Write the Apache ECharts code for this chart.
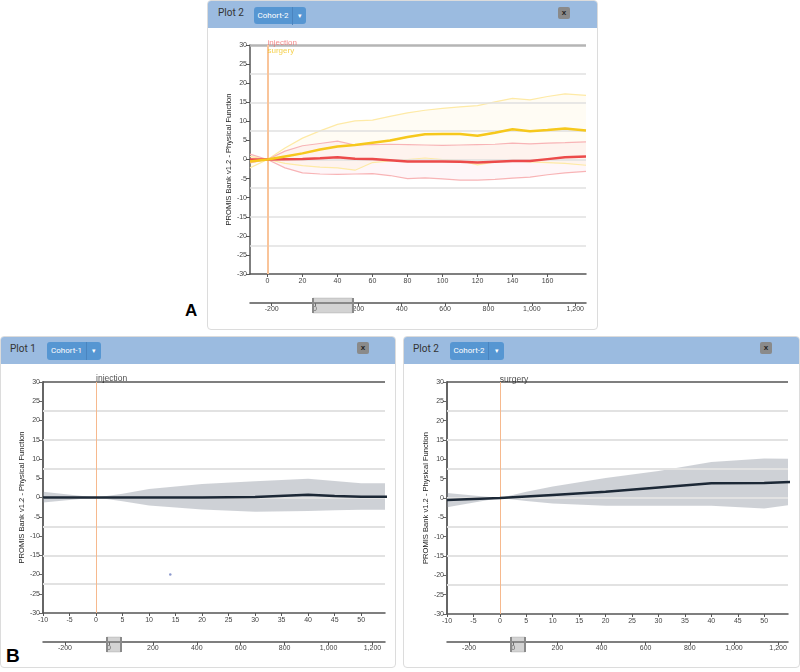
<!DOCTYPE html>
<html>
<head>
<meta charset="utf-8">
<script src="https://cdn.jsdelivr.net/npm/echarts@6/dist/echarts.min.js"></script>
<style>
  html, body { margin:0; padding:0; background:#fff; width:800px; height:672px; overflow:hidden; }
  .panel { position:absolute; border:1px solid #dcdcdc; border-radius:4px; background:#fff; box-sizing:border-box; z-index:1; }
  .hdr { position:absolute; left:0; top:0; right:0; height:27px; background:#9bbbe0; border-radius:3px 3px 0 0; }
  .ttl { position:absolute; font:10px Roboto, Arial, sans-serif; color:#333; line-height:12px; z-index:1; }
  .btn { position:absolute; height:18px; background:#5696d2; border-radius:3px; z-index:1; font:8px Roboto, Arial, sans-serif; color:#fff; }
  .btn .lbl { position:absolute; left:0; top:0; height:18px; line-height:18px; text-align:center; }
  .btn .dv { position:absolute; top:0; width:1px; height:18px; background:#4a84bf; }
  .btn .car { position:absolute; top:0; height:18px; line-height:18px; text-align:center; font-size:7px; }
  .xb { position:absolute; width:12px; height:12px; background:#8a8a8a; border-radius:2px; z-index:1; font:bold 8px Arial, sans-serif; color:#222; text-align:center; line-height:11px; }
  .big { position:absolute; font:bold 18px Arial, "Liberation Sans", sans-serif; color:#000; z-index:1; }
  #c { position:absolute; left:0; top:0; width:800px; height:672px; z-index:2; }
</style>
</head>
<body>
<div class="panel" style="left:207px;top:0;width:391px;height:330px;"><div class="hdr"></div></div>
<div class="ttl" style="left:218px;top:7px;">Plot 2</div>
<div class="btn" style="left:254px;top:7px;width:52px;height:17px;"><div class="lbl" style="width:38px;">Cohort-2</div><div class="dv" style="left:38px;"></div><div class="car" style="left:39px;width:13px;">&#9662;</div></div>
<div class="xb" style="left:558px;top:7px;">x</div>
<div class="big" style="left:185px;top:301px;font-size:17px;">A</div>

<div class="panel" style="left:0;top:336px;width:396px;height:332px;"><div class="hdr"></div></div>
<div class="ttl" style="left:10px;top:343px;">Plot 1</div>
<div class="btn" style="left:47px;top:342px;width:54px;"><div class="lbl" style="width:39px;">Cohort-1</div><div class="dv" style="left:39px;"></div><div class="car" style="left:40px;width:14px;">&#9662;</div></div>
<div class="xb" style="left:357px;top:342px;">x</div>

<div class="panel" style="left:403px;top:336px;width:397px;height:332px;"><div class="hdr"></div></div>
<div class="ttl" style="left:413px;top:343px;">Plot 2</div>
<div class="btn" style="left:450px;top:342px;width:54px;"><div class="lbl" style="width:38px;">Cohort-2</div><div class="dv" style="left:38px;"></div><div class="car" style="left:39px;width:15px;">&#9662;</div></div>
<div class="xb" style="left:760px;top:342px;">x</div>
<div class="big" style="left:6px;top:645px;font-size:19px;">B</div>

<div id="c"></div>
<script>
// ---------------- data ----------------
const yTitle = 'PROMIS Bank v1.2 - Physical Function';

// Panel A (days, mean change and band limits)
const xA = [-10,0,10,20,30,40,50,60,70,80,90,100,110,120,130,140,150,160,170,182];
const injMean  = [0,0,0.05,0.1,0.3,0.6,0.2,0.1,-0.2,-0.5,-0.5,-0.5,-0.6,-0.8,-0.6,-0.4,-0.4,0.1,0.6,0.8];
const injUpper = [1.4,0,2.2,3.6,4.2,4.8,3.8,3.9,4.0,3.9,3.8,3.7,3.8,3.9,4.0,4.3,4.1,4.3,4.4,4.6];
const injLower = [-0.9,0,-2.2,-3.5,-3.8,-3.9,-3.8,-3.7,-4.2,-5.0,-4.8,-5.1,-5.4,-5.4,-5.2,-4.9,-4.6,-4.0,-3.5,-3.1];
const surMean  = [-0.5,0,0.8,1.6,2.6,3.4,3.8,4.4,5.0,5.9,6.6,6.7,6.7,6.2,7.0,7.9,7.4,7.7,8.1,7.6];
const surUpper = [0.8,0,3.0,5.6,7.5,9.2,10.1,10.3,11.3,12.2,12.9,13.4,13.8,14.1,15.1,16.0,15.6,16.5,17.2,16.8];
const surLower = [-2.2,0,-1.0,-1.6,-2.0,-2.2,-2.8,-0.8,-0.4,0.0,0.4,0.0,-0.3,-1.4,-0.6,-0.3,-0.6,-0.8,-1.0,-1.5];

// Panel B left (Plot 1, Cohort-1, injection)
const xB1 = [-10,0,5,10,20,30,40,45,50,60];
const b1Mean  = [0,0,0,0,0,0.1,0.7,0.4,0.2,0.2];
const b1Upper = [1.5,0,1.0,2.2,3.5,4.2,4.9,4.3,3.7,3.7];
const b1Lower = [-1.3,0,-1.0,-2.1,-3.1,-3.7,-3.5,-3.3,-3.2,-3.2];
const b1Dot = [[14,-20]];

// Panel B right (Plot 2, Cohort-2, surgery)
const xB2 = [-10,0,5,10,20,30,40,50,60];
const b2Mean  = [-0.5,0,0.4,0.8,1.6,2.7,3.8,3.9,4.4];
const b2Upper = [1.3,0,1.6,3.0,5.2,7.0,9.3,10.2,10.1];
const b2Lower = [-2.4,0,-0.8,-1.4,-2.0,-2.0,-2.0,-2.7,-0.9];

// axes / ticks
const yTicks = [-30,-25,-20,-15,-10,-5,0,5,10,15,20,25,30];
const gridY = [-22.5,-15,-7.5,0,7.5,15,22.5];
const xTicksA = [0,20,40,60,80,100,120,140,160];
const xTicksB = [-10,-5,0,5,10,15,20,25,30,35,40,45,50];
const sliderTicks = [-200,0,200,400,600,800,1000,1200];
const brushA = [-10,172];
const brushB1 = [-10,54];
const brushB2 = [-10,54];
const eventsA = ['injection','surgery'];
const eventsB1 = ['injection'];
const eventsB2 = ['surgery'];
const eventDay = 0;

// ---------------- helpers ----------------
const F = '"Liberation Sans", Arial, sans-serif';
const zip = (xs, ys) => xs.map((x, i) => [x, ys[i]]);

function mainX(gi, min, max, ticks, col) {
  return { type:'value', gridIndex:gi, min, max,
    axisLine:{ show:true, onZero:false, lineStyle:{ color:col, width:1.5 } },
    axisTick:{ show:true, length:3, customValues:ticks, lineStyle:{ color:col } },
    axisLabel:{ customValues:ticks, fontSize:7, color:'#444', margin:4, fontFamily:F },
    splitLine:{ show:false } };
}
function mainY(gi, nameGap, col, w) {
  return { type:'value', gridIndex:gi, min:-30, max:30,
    name:yTitle, nameLocation:'middle', nameGap,
    nameTextStyle:{ fontSize:7.6, color:'#222', fontFamily:F },
    axisLine:{ show:true, onZero:false, lineStyle:{ color:col, width:w } },
    axisTick:{ show:true, length:4, customValues:yTicks, lineStyle:{ color:col } },
    axisLabel:{ customValues:yTicks, fontSize:7, color:'#444', margin:3, fontFamily:F },
    splitLine:{ show:false } };
}
function sliderX(gi, min, max) {
  return { type:'value', gridIndex:gi, min, max, position:'top', offset:-5,
    axisLine:{ show:true, onZero:false, lineStyle:{ color:'#555', width:1.5 } },
    axisTick:{ show:true, inside:true, length:3, customValues:sliderTicks, lineStyle:{ color:'#555' } },
    axisLabel:{ inside:true, margin:3, customValues:sliderTicks, fontSize:7, color:'#444', fontFamily:F,
      formatter: v => Number(v).toLocaleString('en-US') },
    splitLine:{ show:false } };
}
function sliderY(gi) {
  return { type:'value', gridIndex:gi, min:0, max:1, show:false };
}
function frameSeries(ai, topCol, topW, gridCol, gridW, vCol, vW) {
  return { type:'line', xAxisIndex:ai, yAxisIndex:ai, data:[], z:1, silent:true,
    markLine:{ silent:true, symbol:['none','none'], animation:false, label:{ show:false },
      data: gridY.map(v => ({ yAxis:v, lineStyle:{ color:gridCol, width:gridW, type:'solid' } }))
        .concat([{ yAxis:30, lineStyle:{ color:topCol, width:topW, type:'solid' } },
                 { xAxis:eventDay, lineStyle:{ color:vCol, width:vW, type:'solid' } }]) } };
}
function brushSeries(ai, range) {
  return { type:'line', xAxisIndex:ai, yAxisIndex:ai, data:[], silent:true,
    markArea:{ silent:true, itemStyle:{ color:'rgba(150,150,150,0.42)', borderColor:'rgba(140,140,140,0.6)', borderWidth:0.5 },
      data:[[{ xAxis:range[0] }, { xAxis:range[1] }]] },
    markLine:{ silent:true, symbol:['none','none'], label:{ show:false },
      lineStyle:{ color:'#8a8a8a', width:2, type:'solid' },
      data:[{ xAxis:range[0] }, { xAxis:range[1] }] } };
}
// filled band between lower and upper, drawn through the axes' coordinate mapping
function bandFill(ai, xs, lower, upper, fill, z) {
  return { type:'custom', xAxisIndex:ai, yAxisIndex:ai, z, silent:true, clip:true,
    data:[[xs[0], lower[0]]],
    renderItem(params, api) {
      const top = xs.map((x, i) => api.coord([x, upper[i]]));
      const bot = xs.map((x, i) => api.coord([x, lower[i]])).reverse();
      return { type:'polygon', shape:{ points: top.concat(bot) }, style:{ fill, stroke:null } };
    } };
}
function edgeLine(ai, xs, ys, color, w, z) {
  return { type:'line', xAxisIndex:ai, yAxisIndex:ai, symbol:'none', z, silent:true,
    data:zip(xs, ys), lineStyle:{ color, width:w } };
}
function meanLine(ai, xs, ys, color, w) {
  return { type:'line', xAxisIndex:ai, yAxisIndex:ai, symbol:'none', z:5, silent:true,
    data:zip(xs, ys), lineStyle:{ color, width:w } };
}
function eventLabels(ai, names, colors, offsets, size) {
  return { type:'scatter', xAxisIndex:ai, yAxisIndex:ai, symbol:'circle', symbolSize:0, z:6, silent:true,
    clip:false, itemStyle:{ color:'rgba(0,0,0,0)' },
    data: names.map((n, i) => ({ value:[eventDay, 30],
      label:{ show:true, position:'right', distance:0, formatter:n, color:colors[i], fontSize:size,
        fontFamily:F, offset:offsets[i] } })) };
}

// ---------------- chart ----------------
const chart = echarts.init(document.getElementById('c'), null, { renderer:'canvas', width:800, height:672 });
const option = {
  animation:false,
  backgroundColor:'transparent',
  grid:[
    { left:250, top:45, width:336, height:229, outerBoundsMode:'none' },
    { left:250, top:298, width:336, height:15, outerBoundsMode:'none' },
    { left:43, top:382, width:342, height:231, outerBoundsMode:'none' },
    { left:43, top:637, width:342, height:15, outerBoundsMode:'none' },
    { left:447, top:382, width:341, height:232, outerBoundsMode:'none' },
    { left:447, top:637, width:341, height:15, outerBoundsMode:'none' }
  ],
  xAxis:[
    mainX(0, -10, 182, xTicksA, '#555'),
    sliderX(1, -300, 1250),
    mainX(2, -10, 54.5, xTicksB, '#555'),
    sliderX(3, -300, 1257),
    mainX(4, -10, 54.5, xTicksB, '#555'),
    sliderX(5, -300, 1245)
  ],
  yAxis:[
    mainY(0, 13, '#555', 1.5),
    sliderY(1),
    mainY(2, 14, '#666', 2),
    sliderY(3),
    mainY(4, 15, '#666', 2),
    sliderY(5)
  ],
  series:[
    // Panel A
    frameSeries(0, '#b5b5b5', 2.5, '#e0e0e0', 1.5, '#f9c49a', 2),
    bandFill(0, xA, surLower, surUpper, 'rgba(255,222,110,0.08)', 2),
    bandFill(0, xA, injLower, injUpper, 'rgba(245,130,150,0.07)', 2),
    edgeLine(0, xA, surUpper, '#feeaa6', 1.2, 3),
    edgeLine(0, xA, surLower, '#feeaa6', 1.2, 3),
    edgeLine(0, xA, injUpper, '#f8b4b6', 1.2, 3),
    edgeLine(0, xA, injLower, '#f8b4b6', 1.2, 3),
    meanLine(0, xA, injMean, '#ec4a4a', 2.5),
    meanLine(0, xA, surMean, '#f6c81c', 2.5),
    eventLabels(0, eventsA, ['#f06d6d', '#f3c623'], [[0,-2],[0,6]], 8),
    brushSeries(1, brushA),
    // Panel B left
    frameSeries(2, '#555', 1.5, '#e2e2e2', 2, '#f6b98e', 1),
    bandFill(2, xB1, b1Lower, b1Upper, 'rgba(125,135,148,0.38)', 2),
    meanLine(2, xB1, b1Mean, '#1c2836', 2.5),
    { type:'scatter', xAxisIndex:2, yAxisIndex:2, symbolSize:2.5, data:b1Dot, itemStyle:{ color:'#6f7fc0' }, silent:true },
    eventLabels(2, eventsB1, ['#222'], [[0,-3]], 8.5),
    brushSeries(3, brushB1),
    // Panel B right
    frameSeries(4, '#555', 1.5, '#e2e2e2', 2, '#f6b98e', 1),
    bandFill(4, xB2, b2Lower, b2Upper, 'rgba(125,135,148,0.38)', 2),
    meanLine(4, xB2, b2Mean, '#1c2836', 2.5),
    eventLabels(4, eventsB2, ['#222'], [[0,-2]], 8.5),
    brushSeries(5, brushB2)
  ]
};
chart.setOption(option);
</script>
</body>
</html>
